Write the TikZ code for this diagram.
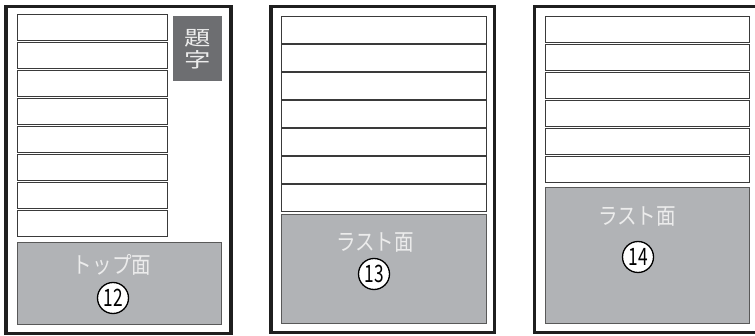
\documentclass[tikz,border=0pt]{standalone}
\usepackage{fontspec}
\newfontfamily\jp{Noto Sans CJK JP}
\definecolor{panelgray}{HTML}{B1B3B6}
\definecolor{titlegray}{HTML}{6D6E71}
\definecolor{stripeline}{HTML}{3A3A3A}
\definecolor{labeltext}{HTML}{ECECEC}
\tikzset{
  frame/.style={draw=black!88, line width=3.5pt, anchor=north west, inner sep=0pt, outer sep=0pt},
  stripebox/.style={draw=stripeline, line width=0.9pt, fill=white, anchor=north west, inner sep=0pt, outer sep=0pt},
  facebox/.style={draw=black!65, line width=0.8pt, fill=panelgray, anchor=north west, inner sep=0pt, outer sep=0pt},
  titlebox/.style={fill=titlegray, anchor=north west, inner sep=0pt, outer sep=0pt},
  facelabel/.style={text=labeltext, font=\jp\fontsize{23}{23}\selectfont, inner sep=0pt},
  titlelabel/.style={text=labeltext, font=\jp\fontsize{24}{24}\selectfont, inner sep=0pt},
  numcircle/.style={circle, draw=black, fill=white, line width=1.3pt, minimum size=31pt, inner sep=0pt, font=\jp\fontsize{24}{24}\selectfont}
}
\begin{document}
\begin{tikzpicture}[x=1pt, y=-1pt]
\useasboundingbox (0,0) rectangle (755,336);
\clip (0,0) rectangle (755,336);
% panel 1
\node[frame, minimum width=225pt, minimum height=327pt] (f1) at (6,6.5) {};
\foreach \k in {0,...,7} {
  \node[stripebox, minimum width=150pt, minimum height=26.5pt] (a\k) at (17,{14.3+28*\k}) {};
}
\node[titlebox, minimum width=49pt, minimum height=65pt] (tb) at (173,16) {};
\node[titlelabel] (tt1) at (197.5,38) {\scalebox{1.1}[0.84]{題}};
\node[titlelabel] (tt2) at (197.5,59.5) {\scalebox{1.1}[0.84]{字}};
\node[facebox, minimum width=204pt, minimum height=82pt] (g1) at (17,242) {};
\node[facelabel] (l1) at (112,265) {\scalebox{0.85}[1]{トップ面}};
\node[numcircle] (n1) at (113,298) {\scalebox{0.72}[1]{12}};
% panel 2
\node[frame, minimum width=223.5pt, minimum height=326pt] (f2) at (271,6.5) {};
\foreach \k in {0,...,6} {
  \node[stripebox, minimum width=205pt, minimum height=26.5pt] (b\k) at (281,{16.7+28*\k}) {};
}
\node[facebox, minimum width=205pt, minimum height=109pt] (g2) at (281,214) {};
\node[facelabel] (l2) at (375,243) {\scalebox{0.85}[1]{ラスト面}};
\node[numcircle] (n2) at (374,274) {\scalebox{0.72}[1]{13}};
% panel 3
\node[frame, minimum width=230pt, minimum height=326pt] (f3) at (534.5,6.5) {};
\foreach \k in {0,...,5} {
  \node[stripebox, minimum width=204pt, minimum height=26.5pt] (c\k) at (545,{16+28*\k}) {};
}
\node[facebox, minimum width=204pt, minimum height=136pt] (g3) at (545,187) {};
\node[facelabel] (l3) at (637,217) {\scalebox{0.85}[1]{ラスト面}};
\node[numcircle] (n3) at (638,257) {\scalebox{0.72}[1]{14}};
\end{tikzpicture}
\end{document}
